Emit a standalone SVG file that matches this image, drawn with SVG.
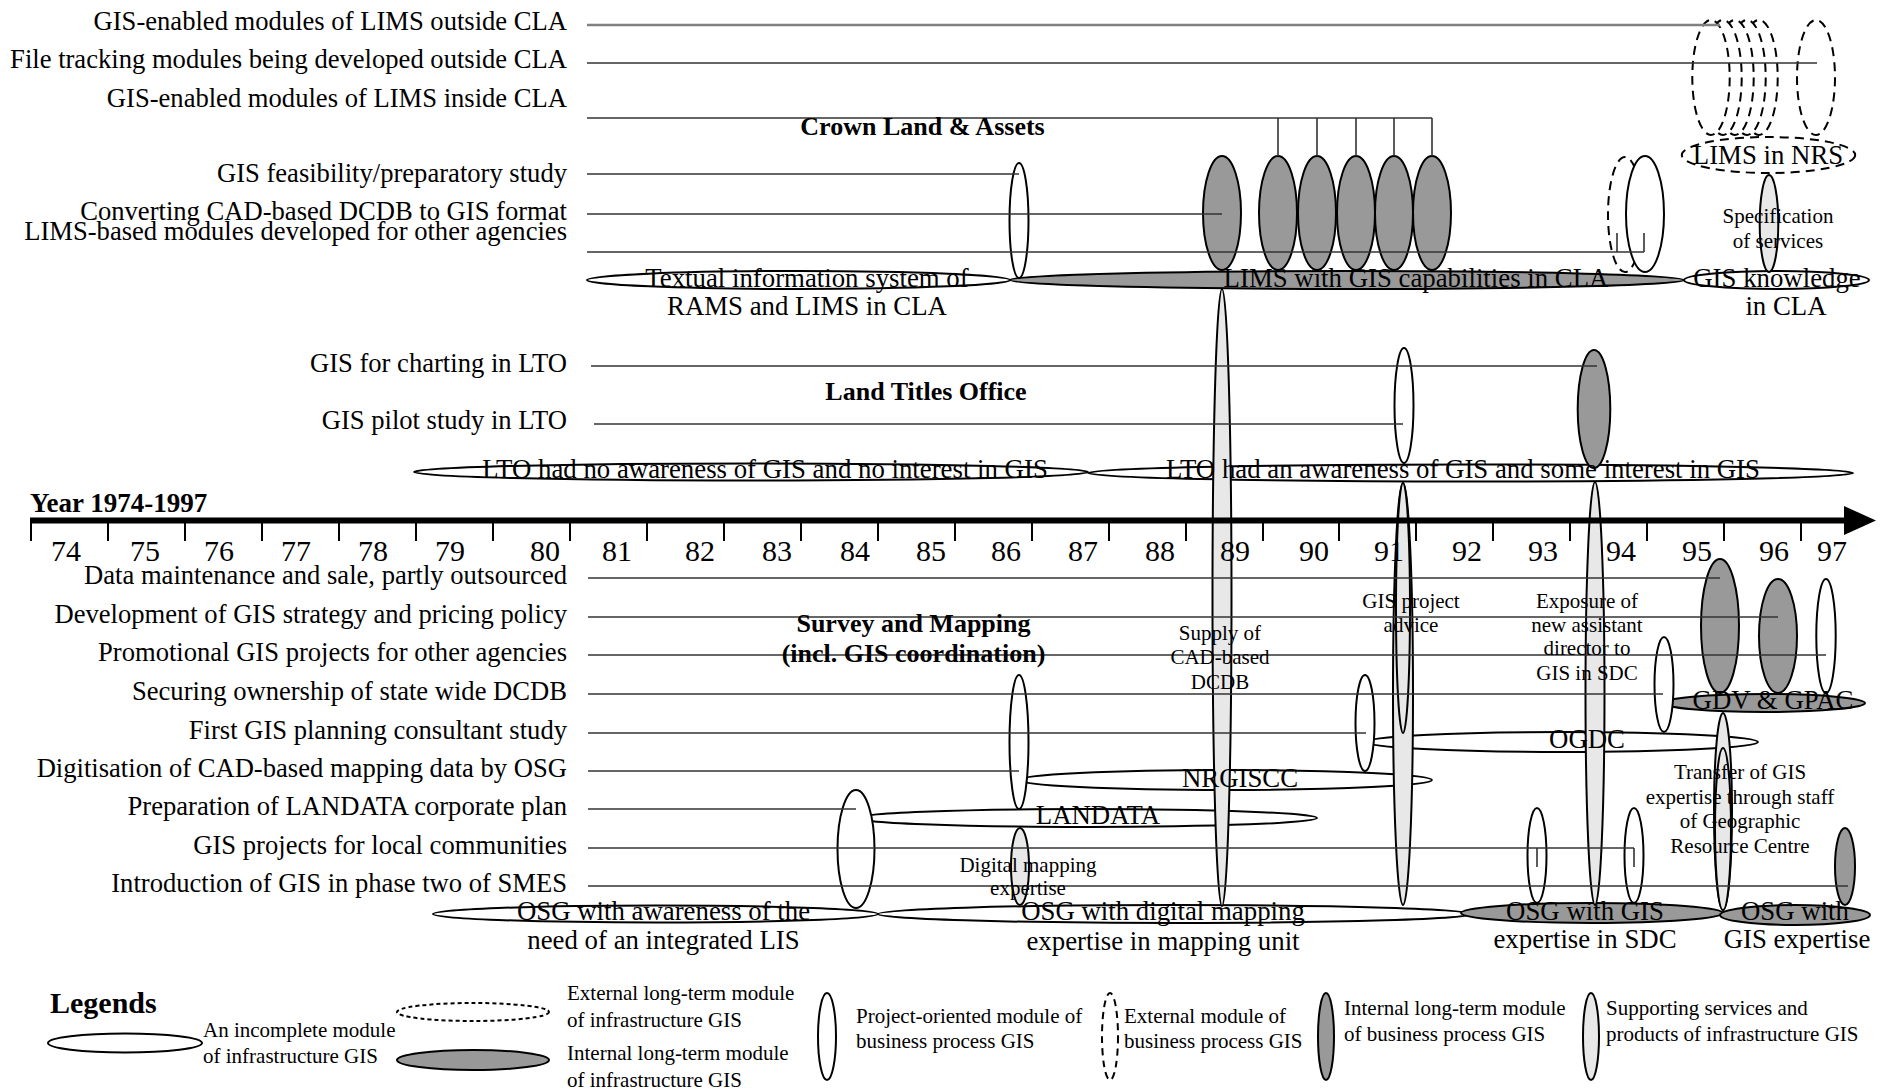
<svg xmlns="http://www.w3.org/2000/svg" width="1885" height="1090" viewBox="0 0 1885 1090">
<style>
text{font-family:"Liberation Serif","Times New Roman",serif;fill:#000}
.lbl{font-size:26.6px;text-anchor:end}
.c{font-size:26.8px;text-anchor:middle}
.sm{font-size:21px;text-anchor:middle}
.b{font-size:26px;font-weight:bold;text-anchor:middle}
.leg{font-size:21px}
.yr{font-size:30px;text-anchor:middle}
.w{fill:#fff;stroke:#000;stroke-width:2}
.g{fill:#999;stroke:#000;stroke-width:2}
.lg{fill:#e8e8e8;stroke:#000;stroke-width:2}
.d{fill:#fff;stroke:#000;stroke-width:2;stroke-dasharray:9 6}
.row{stroke:#333;stroke-width:1.6;fill:none}
.tick{stroke:#000;stroke-width:2}
</style>

<!-- Horizontal (infrastructure) modules -->
<g id="h-textual"><ellipse class="w" cx="798.5" cy="280" rx="211.5" ry="9"/></g>
<g id="h-lims-cla"><ellipse class="g" cx="1347" cy="280" rx="337" ry="9"/></g>
<g id="h-gis-knowledge"><ellipse class="w" cx="1776.5" cy="280" rx="92.5" ry="9"/></g>
<g id="h-lto-no"><ellipse class="w" cx="751" cy="472" rx="337" ry="8.5"/></g>
<g id="h-lto-yes"><ellipse class="w" cx="1470.5" cy="473" rx="382.5" ry="8.5"/></g>
<g id="h-landata"><ellipse class="w" cx="1086.5" cy="818" rx="230.5" ry="9"/></g>
<g id="h-nrgiscc"><ellipse class="w" cx="1225.5" cy="780" rx="206.5" ry="10"/></g>
<g id="h-ogdc"><ellipse class="w" cx="1562" cy="742" rx="196" ry="10"/></g>
<g id="h-gdv"><ellipse class="g" cx="1764" cy="703" rx="101" ry="9"/></g>
<g id="h-osg-aware"><ellipse class="w" cx="655.5" cy="914" rx="222.5" ry="8.5"/></g>
<g id="h-osg-digital"><ellipse class="w" cx="1175" cy="914" rx="297" ry="9"/></g>
<g id="h-osg-sdc"><ellipse class="g" cx="1592" cy="913" rx="131" ry="10"/></g>
<g id="h-osg-gis"><ellipse class="g" cx="1795" cy="915" rx="75" ry="10"/></g>

<!-- Dashed external modules -->
<g id="ext-lims">
<ellipse class="d" cx="1759" cy="77.5" rx="18.7" ry="57.5"/>
<ellipse class="d" cx="1747" cy="77.5" rx="18.7" ry="57.5"/>
<ellipse class="d" cx="1735" cy="77.5" rx="18.7" ry="57.5"/>
<ellipse class="d" cx="1723" cy="77.5" rx="18.7" ry="57.5"/>
<ellipse class="d" cx="1711" cy="77.5" rx="18.7" ry="57.5"/>
</g>
<g id="ext-file"><ellipse class="d" cx="1816" cy="77.5" rx="19" ry="57.5"/></g>
<g id="h-lims-nrs"><ellipse class="d" cx="1768.5" cy="155" rx="86.7" ry="18"/></g>

<!-- Vertical modules, top section -->
<g id="v-feasibility"><ellipse class="w" cx="1019" cy="220.5" rx="9.5" ry="57.5"/></g>
<g id="v-converting"><ellipse class="g" cx="1222" cy="213" rx="19" ry="57"/></g>
<g id="v-lims-inside">
<ellipse class="g" cx="1278" cy="213" rx="19" ry="57"/>
<ellipse class="g" cx="1317" cy="213" rx="19" ry="57"/>
<ellipse class="g" cx="1356" cy="213" rx="19" ry="57"/>
<ellipse class="g" cx="1394" cy="213" rx="19" ry="57"/>
<ellipse class="g" cx="1432" cy="213" rx="19" ry="57"/>
</g>
<g id="v-other-agencies">
<ellipse class="d" cx="1625" cy="214.5" rx="17" ry="57.5"/>
<ellipse class="w" cx="1645" cy="214" rx="19" ry="58"/>
</g>
<g id="v-specification"><ellipse class="lg" cx="1769" cy="223.5" rx="9.3" ry="48.5"/></g>

<!-- LTO -->
<g id="v-lto-pilot"><ellipse class="w" cx="1404" cy="405.5" rx="9.5" ry="57.5"/></g>
<g id="v-lto-charting"><ellipse class="g" cx="1594" cy="409" rx="16.3" ry="59"/></g>

<!-- Vertical modules, bottom section -->
<g id="v-supply-dcdb"><ellipse class="lg" cx="1222" cy="597.5" rx="9.5" ry="308.5"/></g>
<g id="v-project-advice">
<ellipse class="lg" cx="1403" cy="694" rx="10" ry="211"/>
<ellipse class="lg" cx="1403" cy="608" rx="7" ry="125"/>
</g>
<g id="v-exposure"><ellipse class="lg" cx="1595" cy="693.5" rx="9.5" ry="211.5"/></g>
<g id="v-digitisation"><ellipse class="w" cx="1019" cy="742" rx="9.5" ry="67"/></g>
<g id="v-digital-mapping"><ellipse class="lg" cx="1020" cy="866.5" rx="9" ry="38.5"/></g>
<g id="v-landata-plan"><ellipse class="w" cx="856" cy="849" rx="18.5" ry="59"/></g>
<g id="v-first-gis"><ellipse class="w" cx="1365" cy="723" rx="9.5" ry="48"/></g>
<g id="v-securing"><ellipse class="w" cx="1664" cy="684.5" rx="9.5" ry="47.5"/></g>
<g id="v-local-1"><ellipse class="w" cx="1537" cy="855.5" rx="9.5" ry="47.5"/></g>
<g id="v-local-2"><ellipse class="w" cx="1634" cy="855.5" rx="9.5" ry="47.5"/></g>
<g id="v-data-maint"><ellipse class="g" cx="1720" cy="626" rx="19" ry="67"/></g>
<g id="v-strategy"><ellipse class="g" cx="1778" cy="636" rx="19" ry="57"/></g>
<g id="v-promotional"><ellipse class="w" cx="1826" cy="636" rx="9.7" ry="57"/></g>
<g id="v-transfer">
<ellipse class="lg" cx="1723" cy="811.5" rx="9" ry="98.5"/>
<ellipse class="lg" cx="1723" cy="829" rx="8" ry="81"/>
</g>
<g id="v-smes"><ellipse class="g" cx="1845" cy="866.5" rx="10" ry="38.5"/></g>

<!-- Connectors (timeline rows) -->
<g id="connectors">
<line x1="587" y1="25" x2="1720" y2="25" stroke="#808080" stroke-width="2.5"/>
<line class="row" x1="587" y1="63" x2="1817" y2="63"/>
<polyline class="row" points="587,118 1432,118"/>
<line class="row" x1="1278" y1="118" x2="1278" y2="156"/>
<line class="row" x1="1317" y1="118" x2="1317" y2="156"/>
<line class="row" x1="1356" y1="118" x2="1356" y2="156"/>
<line class="row" x1="1394" y1="118" x2="1394" y2="156"/>
<line class="row" x1="1432" y1="118" x2="1432" y2="156"/>
<line class="row" x1="587" y1="174" x2="1019" y2="174"/>
<line class="row" x1="587" y1="214" x2="1222" y2="214"/>
<line class="row" x1="587" y1="252" x2="1644" y2="252"/>
<line class="row" x1="1617" y1="233" x2="1617" y2="252"/>
<line class="row" x1="1644" y1="233" x2="1644" y2="252"/>
<line class="row" x1="591" y1="366" x2="1597" y2="366"/>
<line class="row" x1="594" y1="424" x2="1403" y2="424"/>
<line class="row" x1="588" y1="578" x2="1720" y2="578"/>
<line class="row" x1="588" y1="617" x2="1778" y2="617"/>
<line class="row" x1="588" y1="655" x2="1826" y2="655"/>
<line class="row" x1="588" y1="694" x2="1663" y2="694"/>
<line class="row" x1="588" y1="733" x2="1366" y2="733"/>
<line class="row" x1="588" y1="771" x2="1019" y2="771"/>
<line class="row" x1="588" y1="809" x2="856" y2="809"/>
<line class="row" x1="588" y1="848" x2="1634" y2="848"/>
<line class="row" x1="1537" y1="848" x2="1537" y2="867"/>
<line class="row" x1="1634" y1="848" x2="1634" y2="867"/>
<line class="row" x1="588" y1="886" x2="1848" y2="886"/>
</g>

<!-- Time axis -->
<g id="axis">
<line x1="30" y1="520.5" x2="1846" y2="520.5" stroke="#000" stroke-width="6"/>
<polygon points="1844,506 1844,535 1876,520.5" fill="#000"/>
<g class="tick">
<line x1="31" y1="520" x2="31" y2="541"/><line x1="108" y1="520" x2="108" y2="541"/>
<line x1="185" y1="520" x2="185" y2="541"/><line x1="262" y1="520" x2="262" y2="541"/>
<line x1="339" y1="520" x2="339" y2="541"/><line x1="416" y1="520" x2="416" y2="541"/>
<line x1="493" y1="520" x2="493" y2="541"/><line x1="570" y1="520" x2="570" y2="541"/>
<line x1="647" y1="520" x2="647" y2="541"/><line x1="724" y1="520" x2="724" y2="541"/>
<line x1="801" y1="520" x2="801" y2="541"/><line x1="878" y1="520" x2="878" y2="541"/>
<line x1="955" y1="520" x2="955" y2="541"/><line x1="1032" y1="520" x2="1032" y2="541"/>
<line x1="1109" y1="520" x2="1109" y2="541"/><line x1="1186" y1="520" x2="1186" y2="541"/>
<line x1="1263" y1="520" x2="1263" y2="541"/><line x1="1339" y1="520" x2="1339" y2="541"/>
<line x1="1416" y1="520" x2="1416" y2="541"/><line x1="1493" y1="520" x2="1493" y2="541"/>
<line x1="1570" y1="520" x2="1570" y2="541"/><line x1="1647" y1="520" x2="1647" y2="541"/>
<line x1="1724" y1="520" x2="1724" y2="541"/><line x1="1801" y1="520" x2="1801" y2="541"/>
</g>
<text x="30" y="512" style="font-size:27px;font-weight:bold">Year 1974-1997</text>
<g class="yr">
<text x="66" y="561">74</text><text x="145" y="561">75</text><text x="219" y="561">76</text>
<text x="296" y="561">77</text><text x="373" y="561">78</text><text x="450" y="561">79</text>
<text x="545" y="561">80</text><text x="617" y="561">81</text><text x="700" y="561">82</text>
<text x="777" y="561">83</text><text x="855" y="561">84</text><text x="931" y="561">85</text>
<text x="1006" y="561">86</text><text x="1083" y="561">87</text><text x="1160" y="561">88</text>
<text x="1235" y="561">89</text><text x="1314" y="561">90</text><text x="1389" y="561">91</text>
<text x="1467" y="561">92</text><text x="1543" y="561">93</text><text x="1621" y="561">94</text>
<text x="1697" y="561">95</text><text x="1774" y="561">96</text><text x="1832" y="561">97</text>
</g>
</g>

<!-- Row labels -->
<g id="labels" class="lbl">
<text x="567" y="30">GIS-enabled modules of LIMS outside CLA</text>
<text x="567" y="68">File tracking modules being developed outside CLA</text>
<text x="567" y="107">GIS-enabled modules of LIMS inside CLA</text>
<text x="567" y="182">GIS feasibility/preparatory study</text>
<text x="567" y="220">Converting CAD-based DCDB to GIS format</text>
<text x="567" y="240">LIMS-based modules developed for other agencies</text>
<text x="567" y="372">GIS for charting in LTO</text>
<text x="567" y="429">GIS pilot study in LTO</text>
<text x="567" y="584">Data maintenance and sale, partly outsourced</text>
<text x="567" y="623">Development of GIS strategy and pricing policy</text>
<text x="567" y="661">Promotional GIS projects for other agencies</text>
<text x="567" y="700">Securing ownership of state wide DCDB</text>
<text x="567" y="739">First GIS planning consultant study</text>
<text x="567" y="777">Digitisation of CAD-based mapping data by OSG</text>
<text x="567" y="815">Preparation of LANDATA corporate plan</text>
<text x="567" y="854">GIS projects for local communities</text>
<text x="567" y="892">Introduction of GIS in phase two of SMES</text>
</g>

<!-- Section titles and module texts -->
<g id="texts">
<text class="b" x="922.5" y="135">Crown Land &amp; Assets</text>
<text class="b" x="926" y="400">Land Titles Office</text>
<text class="b" x="913.5" y="632">Survey and Mapping</text>
<text class="b" x="913.5" y="662">(incl. GIS coordination)</text>

<text class="c" x="807" y="287">Textual information system of</text>
<text class="c" x="807" y="315">RAMS and LIMS in CLA</text>
<text class="c" x="1416" y="287">LIMS with GIS capabilities in CLA</text>
<text class="c" x="1777" y="287">GIS knowledge</text>
<text class="c" x="1786" y="315">in CLA</text>
<text class="c" x="1768" y="164">LIMS in NRS</text>
<text class="sm" x="1778" y="223">Specification</text>
<text class="sm" x="1778" y="248">of services</text>

<text class="c" x="765" y="478">LTO had no awareness of GIS and no interest in GIS</text>
<text class="c" x="1463" y="478">LTO had an awareness of GIS and some interest in GIS</text>

<text class="sm" x="1220" y="640">Supply of</text>
<text class="sm" x="1220" y="664">CAD-based</text>
<text class="sm" x="1220" y="689">DCDB</text>
<text class="sm" x="1411" y="608">GIS project</text>
<text class="sm" x="1411" y="632">advice</text>
<text class="sm" x="1587" y="608">Exposure of</text>
<text class="sm" x="1587" y="632">new assistant</text>
<text class="sm" x="1587" y="655">director to</text>
<text class="sm" x="1587" y="680">GIS in SDC</text>
<text class="sm" x="1028" y="872">Digital mapping</text>
<text class="sm" x="1028" y="895">expertise</text>
<text class="sm" x="1740" y="779">Transfer of GIS</text>
<text class="sm" x="1740" y="804">expertise through staff</text>
<text class="sm" x="1740" y="828">of Geographic</text>
<text class="sm" x="1740" y="853">Resource Centre</text>

<text class="c" x="1240" y="787">NRGISCC</text>
<text class="c" x="1098" y="824">LANDATA</text>
<text class="c" x="1587" y="748">OGDC</text>
<text class="c" x="1773" y="709">GDV &amp; GPAC</text>
<text class="c" x="663.5" y="920">OSG with awareness of the</text>
<text class="c" x="663.5" y="949">need of an integrated LIS</text>
<text class="c" x="1163" y="920">OSG with digital mapping</text>
<text class="c" x="1163" y="950">expertise in mapping unit</text>
<text class="c" x="1585" y="920">OSG with GIS</text>
<text class="c" x="1585" y="948">expertise in SDC</text>
<text class="c" x="1795" y="920">OSG with</text>
<text class="c" x="1797" y="948">GIS expertise</text>
</g>

<!-- Legend -->
<g id="legend">
<text x="50" y="1013" style="font-size:30px;font-weight:bold">Legends</text>
<g id="leg-incomplete">
<ellipse class="w" cx="125" cy="1043" rx="77" ry="9.5"/>
<text class="leg" x="203" y="1037">An incomplete module</text>
<text class="leg" x="203" y="1063">of infrastructure GIS</text>
</g>
<g id="leg-ext-infra">
<ellipse cx="473" cy="1012" rx="76" ry="9" fill="#fff" stroke="#000" stroke-width="2" stroke-dasharray="4 3"/>
<text class="leg" x="567" y="1000">External long-term module</text>
<text class="leg" x="567" y="1027">of infrastructure GIS</text>
</g>
<g id="leg-int-infra">
<ellipse class="g" cx="473" cy="1060" rx="76" ry="10"/>
<text class="leg" x="567" y="1060">Internal long-term module</text>
<text class="leg" x="567" y="1087">of infrastructure GIS</text>
</g>
<g id="leg-project">
<ellipse class="w" cx="827" cy="1036.5" rx="9" ry="43.5"/>
<text class="leg" x="856" y="1023">Project-oriented module of</text>
<text class="leg" x="856" y="1048">business process GIS</text>
</g>
<g id="leg-ext-bp">
<ellipse class="d" cx="1110" cy="1036.5" rx="8" ry="43.5" style="stroke-dasharray:7 5"/>
<text class="leg" x="1124" y="1023">External module of</text>
<text class="leg" x="1124" y="1048">business process GIS</text>
</g>
<g id="leg-int-bp">
<ellipse class="g" cx="1326" cy="1036.5" rx="8" ry="43.5"/>
<text class="leg" x="1344" y="1015">Internal long-term module</text>
<text class="leg" x="1344" y="1041">of business process GIS</text>
</g>
<g id="leg-support">
<ellipse class="lg" cx="1591" cy="1036.5" rx="8" ry="43.5"/>
<text class="leg" x="1606" y="1015">Supporting services and</text>
<text class="leg" x="1606" y="1041">products of infrastructure GIS</text>
</g>
</g>
</svg>
